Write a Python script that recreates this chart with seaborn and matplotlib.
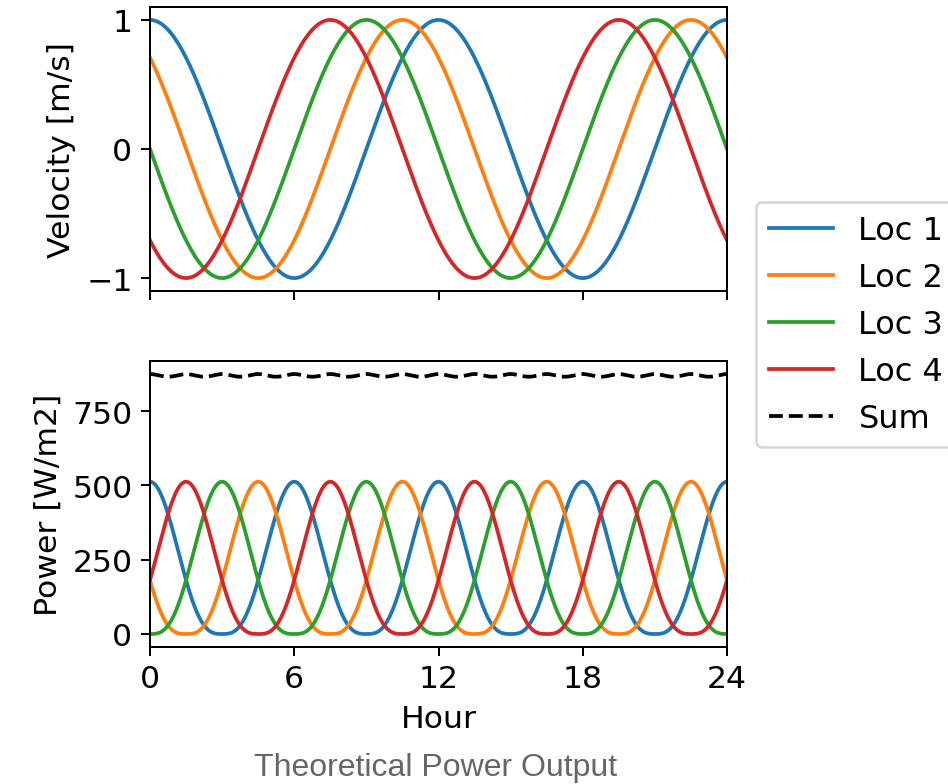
import numpy as np
import pandas as pd
import matplotlib
matplotlib.use("Agg")
import matplotlib.pyplot as plt
import seaborn as sns

# Tidal current model for four locations
locations = ["Loc 1", "Loc 2", "Loc 3", "Loc 4"]
peak_hours = [0.0, 10.5, 9.0, 7.5]      # hour of first velocity maximum
tidal_period = 12.0                      # hours
peak_speed = 1.0                         # m/s
water_density = 1025.0                   # kg/m3
hour_ticks = [0, 6, 12, 18, 24]
velocity_ticks = [-1, 0, 1]
power_ticks = [0, 250, 500, 750]

hours = np.linspace(0, 24, 481)

frames = []
for loc, peak in zip(locations, peak_hours):
    vel = peak_speed * np.cos(2 * np.pi * (hours - peak) / tidal_period)
    power = 0.5 * water_density * np.abs(vel) ** 3
    frames.append(pd.DataFrame({"Hour": hours, "Velocity": vel,
                                "Power": power, "Location": loc}))
df = pd.concat(frames, ignore_index=True)
total = df.groupby("Hour", as_index=False)["Power"].sum()

plt.rcParams.update({"font.size": 12.6, "font.family": ["DejaVu Sans"]})
palette = dict(zip(locations, sns.color_palette("tab10", 4)))

fig = plt.figure(figsize=(948 / 180, 785 / 180), dpi=180)
ax1 = fig.add_axes([150 / 948, 1 - 292 / 785, 577 / 948, 284 / 785])
ax2 = fig.add_axes([150 / 948, 1 - 648 / 785, 577 / 948, 286 / 785], sharex=ax1)

sns.lineplot(data=df, x="Hour", y="Velocity", hue="Location",
             palette=palette, ax=ax1, linewidth=1.5, legend=False)
sns.lineplot(data=df, x="Hour", y="Power", hue="Location",
             palette=palette, ax=ax2, linewidth=1.5)
sns.lineplot(data=total, x="Hour", y="Power", color="black",
             linestyle="--", linewidth=1.5, ax=ax2, label="Sum")

ax1.set_xlim(0, 24)
ax1.set_xticks(hour_ticks)
ax1.set_yticks(velocity_ticks)
ax1.set_ylabel("Velocity [m/s]")
ax1.set_xlabel("")
ax1.tick_params(labelbottom=False)

ax2.set_yticks(power_ticks)
ax2.set_ylabel("Power [W/m2]")
ax2.set_xlabel("Hour")

handles, labels = ax2.get_legend_handles_labels()
ax2.get_legend().remove()
fig.legend(handles, labels, loc="upper left", fontsize=12.8,
           bbox_to_anchor=(756 / 948, 1 - 203 / 785), borderaxespad=0)

fig.text(436 / 948, 1 - 768 / 785, "Theoretical Power Output",
         ha="center", va="center", color="#666666",
         family=["Liberation Sans", "DejaVu Sans"], fontsize=12.8)

fig.savefig("out.png", dpi=180)
